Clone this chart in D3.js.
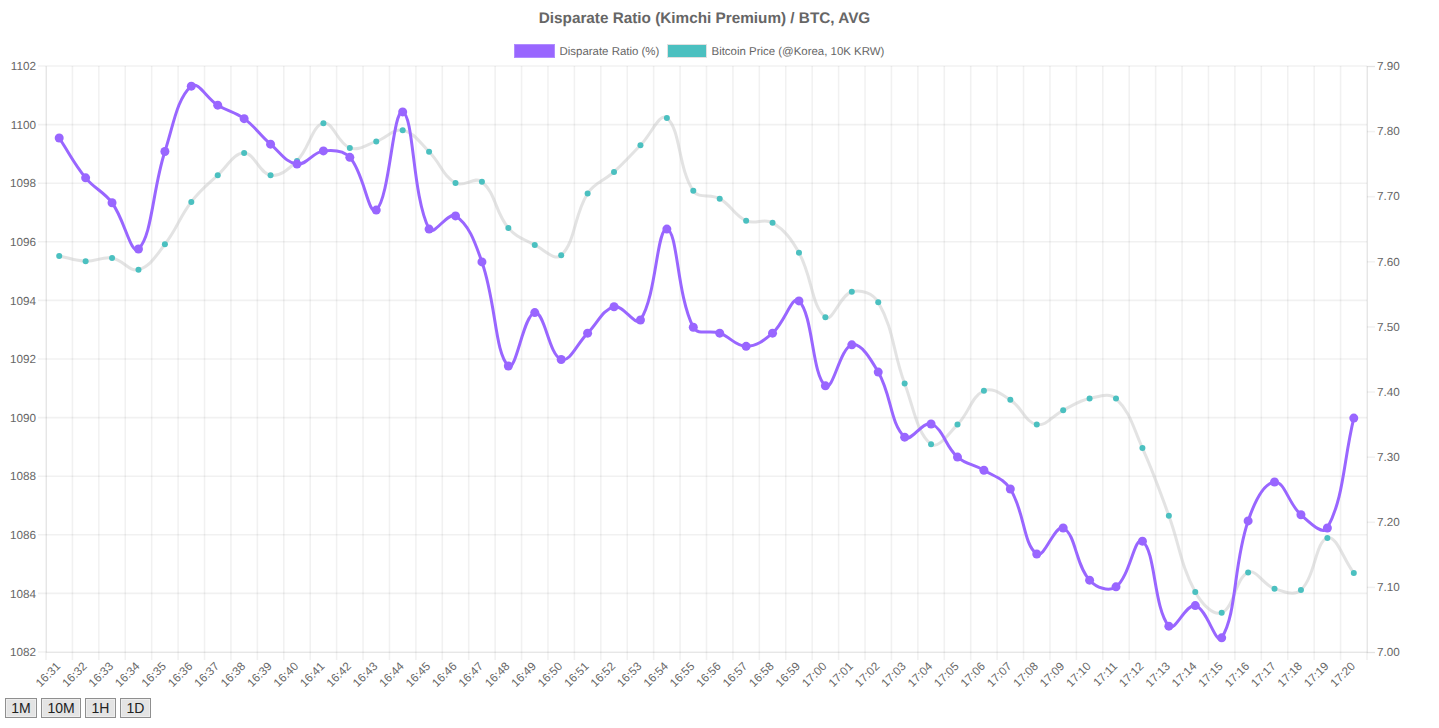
<!DOCTYPE html>
<html>
<head>
<meta charset="utf-8">
<style>
  html, body { margin: 0; padding: 0; background: #fff; }
  body { width: 1439px; height: 728px; overflow: hidden; position: relative; font-family: "Liberation Sans", Arial, sans-serif; }
  svg { position: absolute; left: 0; top: 0; text-rendering: geometricPrecision; }
  .btn { position: absolute; top: 698px; height: 20px; box-sizing: border-box; padding: 0; background: #e4e4e4; border: 1px solid #8f8f8f; box-shadow: inset 0 0 0 1px #eee; color: #222; font: 14px "Liberation Sans", Arial, sans-serif; }
</style>
</head>
<body>
<svg id="chart" width="1439" height="728"></svg>
<script src="https://cdn.jsdelivr.net/npm/d3@7"></script>
<script>
const minutes = ['16:31','16:32','16:33','16:34','16:35','16:36','16:37','16:38','16:39','16:40',
  '16:41','16:42','16:43','16:44','16:45','16:46','16:47','16:48','16:49','16:50',
  '16:51','16:52','16:53','16:54','16:55','16:56','16:57','16:58','16:59','17:00',
  '17:01','17:02','17:03','17:04','17:05','17:06','17:07','17:08','17:09','17:10',
  '17:11','17:12','17:13','17:14','17:15','17:16','17:17','17:18','17:19','17:20'];

const disparateRatio = [1099.56,1098.2,1097.35,1095.77,1099.1,1101.33,1100.68,1100.22,1099.35,1098.67,
  1099.12,1098.9,1097.1,1100.45,1096.45,1096.9,1095.33,1091.78,1093.6,1092.0,
  1092.9,1093.8,1093.35,1096.45,1093.1,1092.9,1092.45,1092.9,1094.0,1091.1,
  1092.5,1091.57,1089.35,1089.8,1088.67,1088.22,1087.58,1085.36,1086.25,1084.47,
  1084.24,1085.8,1082.9,1083.6,1082.5,1086.49,1087.82,1086.7,1086.25,1090.0];

const bitcoinPrice = [7.609,7.601,7.606,7.588,7.627,7.692,7.733,7.767,7.733,7.755,
  7.813,7.775,7.785,7.802,7.769,7.721,7.723,7.652,7.626,7.61,
  7.705,7.738,7.779,7.821,7.709,7.697,7.663,7.66,7.614,7.515,
  7.554,7.538,7.413,7.32,7.35,7.402,7.388,7.35,7.372,7.39,
  7.39,7.314,7.21,7.093,7.061,7.123,7.098,7.096,7.176,7.122];

const leftTicks = [1082,1084,1086,1088,1090,1092,1094,1096,1098,1100,1102];
const rightTicks = [7.0,7.1,7.2,7.3,7.4,7.5,7.6,7.7,7.8,7.9];

const left = 46, right = 1367, top_ = 66, bottom = 652;
const gridColor = 'rgba(0,0,0,0.055)';
const textColor = '#666';
const tickFont = '11.7px "Liberation Sans", Arial, sans-serif';

const svg = d3.select('#chart');

const x = d3.scaleBand().domain(minutes).range([left, right]);
const yLeft = d3.scaleLinear().domain([1082, 1102]).range([bottom, top_]);
const yRight = d3.scaleLinear().domain([7.0, 7.9]).range([bottom, top_]);

// same control point rule chart.js uses for tension 0.4
function splinePath(pts, t = 0.4) {
  const p = d3.path();
  const ctrl = pts.map((c, i) => {
    const a = pts[i - 1] || c, b = pts[i + 1] || c;
    const d1 = Math.hypot(c[0] - a[0], c[1] - a[1]);
    const d2 = Math.hypot(b[0] - c[0], b[1] - c[1]);
    const s1 = d1 / (d1 + d2 || 1), s2 = d2 / (d1 + d2 || 1);
    return {
      px: c[0] - t * s1 * (b[0] - a[0]), py: c[1] - t * s1 * (b[1] - a[1]),
      nx: c[0] + t * s2 * (b[0] - a[0]), ny: c[1] + t * s2 * (b[1] - a[1])
    };
  });
  pts.forEach((c, i) => {
    if (i === 0) p.moveTo(c[0], c[1]);
    else p.bezierCurveTo(ctrl[i - 1].nx, ctrl[i - 1].ny, ctrl[i].px, ctrl[i].py, c[0], c[1]);
  });
  return p.toString();
}

// grid
const grid = svg.append('g').attr('stroke', gridColor).attr('stroke-width', 1.6);
grid.selectAll('line.h').data(leftTicks).join('line')
  .attr('x1', left - 8).attr('x2', right)
  .attr('y1', d => yLeft(d)).attr('y2', d => yLeft(d));
grid.selectAll('line.v').data(minutes).join('line')
  .attr('x1', d => x(d)).attr('x2', d => x(d))
  .attr('y1', top_).attr('y2', bottom + 8);
grid.append('line').attr('x1', right).attr('x2', right).attr('y1', top_).attr('y2', bottom + 8);

// axes
const axisLeft = d3.axisLeft(yLeft).tickValues(leftTicks).tickSize(0).tickPadding(10).tickFormat(d3.format('d'));
const gl = svg.append('g').attr('transform', `translate(${left},0)`).call(axisLeft);
const axisRight = d3.axisRight(yRight).tickValues(rightTicks).tickSize(8).tickPadding(2).tickFormat(d3.format('.2f'));
const gr = svg.append('g').attr('transform', `translate(${right},0)`).call(axisRight);
const axisBottom = d3.axisBottom(x).tickSize(0).tickPadding(0);
const gb = svg.append('g').attr('transform', `translate(0,${bottom})`).call(axisBottom);

[gl, gr, gb].forEach(g => {
  g.select('.domain').attr('stroke', gridColor);
  g.selectAll('line').attr('stroke', gridColor).attr('stroke-width', 1.6);
  g.selectAll('text').attr('fill', textColor).style('font', tickFont);
});
gb.selectAll('text')
  .attr('text-anchor', 'end')
  .attr('dy', 0)
  .attr('y', 0)
  .attr('transform', 'translate(2,15) rotate(-45)');

// datasets, second one first so purple ends on top
const series = [
  { values: bitcoinPrice, y: yRight, line: 'rgba(200,200,200,0.5)', dot: '#4bc0c0', width: 3, r: 3 },
  { values: disparateRatio, y: yLeft, line: '#9966ff', dot: '#9966ff', width: 3, r: 4.5 }
];
const marks = svg.append('g').attr('transform', 'translate(0,0.5)');
series.forEach(s => {
  const pts = s.values.map((v, i) => [x(minutes[i]) + x.bandwidth() / 2, s.y(v)]);
  marks.append('path').attr('d', splinePath(pts)).attr('fill', 'none')
    .attr('stroke', s.line).attr('stroke-width', s.width);
  marks.append('g').selectAll('circle').data(s.values).join('circle')
    .attr('cx', (d, i) => x(minutes[i]) + x.bandwidth() / 2)
    .attr('cy', d => s.y(d))
    .attr('r', s.r)
    .attr('fill', s.dot);
});

// title
svg.append('text').attr('x', 704.5).attr('y', 23).attr('text-anchor', 'middle')
  .attr('fill', textColor).style('font', 'bold 15.3px "Liberation Sans", Arial, sans-serif')
  .text('Disparate Ratio (Kimchi Premium) / BTC, AVG');

// legend
const legendItems = [
  { label: 'Disparate Ratio (%)', fill: '#9966ff', stroke: '#b08cff', x: 514.5, w: 40 },
  { label: 'Bitcoin Price (@Korea, 10K KRW)', fill: '#4bc0c0', stroke: '#e0e0e0', x: 667.5, w: 39 }
];
const lg = svg.append('g');
legendItems.forEach(l => {
  lg.append('rect').attr('x', l.x).attr('y', 44.5).attr('width', l.w).attr('height', 13)
    .attr('fill', l.fill).attr('stroke', l.stroke);
  lg.append('text').attr('x', l.x + l.w + 5).attr('y', 55).attr('fill', textColor)
    .style('font', '11.45px "Liberation Sans", Arial, sans-serif').text(l.label);
});

// range buttons
const ranges = [['1M', 5, 32], ['10M', 41, 40], ['1H', 85, 31], ['1D', 120, 31]];
d3.select('body').selectAll('button').data(ranges).join('button')
  .attr('class', 'btn')
  .style('left', d => d[1] + 'px')
  .style('width', d => d[2] + 'px')
  .text(d => d[0]);
</script>
</body>
</html>
